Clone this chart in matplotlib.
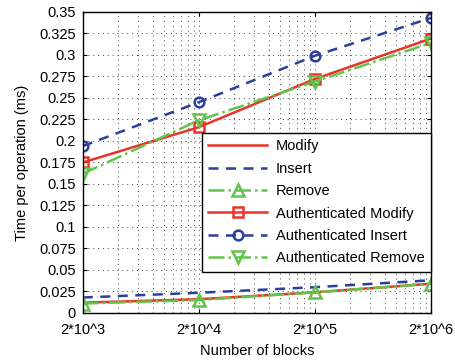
import numpy as np
import matplotlib
matplotlib.use('Agg')
import matplotlib.pyplot as plt
from matplotlib.ticker import FixedLocator, NullFormatter

plt.rcParams['font.family'] = ['Liberation Sans', 'DejaVu Sans']
plt.rcParams['font.size'] = 10.5

# number of blocks
blocks = [2e3, 2e4, 2e5, 2e6]
xlabels = ['2*10^3', '2*10^4', '2*10^5', '2*10^6']

# time per operation (ms)
modify = [0.012, 0.016, 0.024, 0.034]
insert = [0.018, 0.0235, 0.030, 0.038]
remove = [0.011, 0.015, 0.024, 0.034]
auth_modify = [0.175, 0.216, 0.272, 0.319]
auth_insert = [0.194, 0.245, 0.299, 0.343]
auth_remove = [0.162, 0.224, 0.269, 0.314]

red = '#e8352a'
blue = '#2b3f9c'
green = '#63c44b'

fig = plt.figure(figsize=(4.55, 3.61), dpi=100)
ax = fig.add_axes([0.182, 0.133, 0.765, 0.834])

lw = 1.8
ax.plot(blocks, modify, '-', color=red, lw=lw, label='Modify')
ax.plot(blocks, insert, '--', color=blue, lw=lw, dashes=(4, 3), label='Insert')
ax.plot(blocks, remove, '-.', color=green, lw=lw, marker='^', ms=8, mfc='none',
        mew=1.8, label='Remove')
ax.plot(blocks, auth_modify, '-', color=red, lw=lw, marker='s', ms=7, mfc='none',
        mew=1.8, label='Authenticated Modify')
ax.plot(blocks, auth_insert, '--', color=blue, lw=lw, dashes=(4, 3), marker='o',
        ms=7, mfc='none', mew=1.8, label='Authenticated Insert')
ax.plot(blocks, auth_remove, '-.', color=green, lw=lw, marker='v', ms=8, mfc='none',
        mew=1.8, label='Authenticated Remove')

ax.set_xscale('log')
ax.set_xlim(blocks[0], blocks[-1])
ax.set_ylim(0, 0.35)
ax.xaxis.set_major_locator(FixedLocator(blocks))
ax.set_xticklabels(xlabels)
# minor grid at multiples of 2*10^n like the original
minor = [b * k for b in blocks[:-1] for k in range(2, 10)]
ax.xaxis.set_minor_locator(FixedLocator(minor))
ax.xaxis.set_minor_formatter(NullFormatter())
ax.set_yticks(np.arange(0, 0.351, 0.025))
ax.set_yticklabels(['0', '0.025', '0.05', '0.075', '0.1', '0.125', '0.15', '0.175',
                    '0.2', '0.225', '0.25', '0.275', '0.3', '0.325', '0.35'])

dots = (0, (1, 4))
ax.grid(True, which='major', ls=dots, color='#444444', lw=0.7)
ax.grid(True, which='minor', axis='x', ls=dots, color='#444444', lw=0.7)
ax.tick_params(which='both', direction='in', top=True, right=True, length=3)
ax.tick_params(which='minor', length=0)
ax.tick_params(axis='x', pad=7)
ax.tick_params(axis='y', pad=5)
for s in ax.spines.values():
    s.set_linewidth(1.0)

ax.set_xlabel('Number of blocks', labelpad=5)
ax.set_ylabel('Time per operation (ms)', labelpad=7)

leg = ax.legend(loc='lower right', bbox_to_anchor=(1.0, 0.136), borderaxespad=0,
                fancybox=False, edgecolor='black', framealpha=1,
                handlelength=4.0, labelspacing=0.58, borderpad=0.45,
                handletextpad=0.6)
leg.get_frame().set_linewidth(1.0)

fig.savefig('out.png', dpi=100)
